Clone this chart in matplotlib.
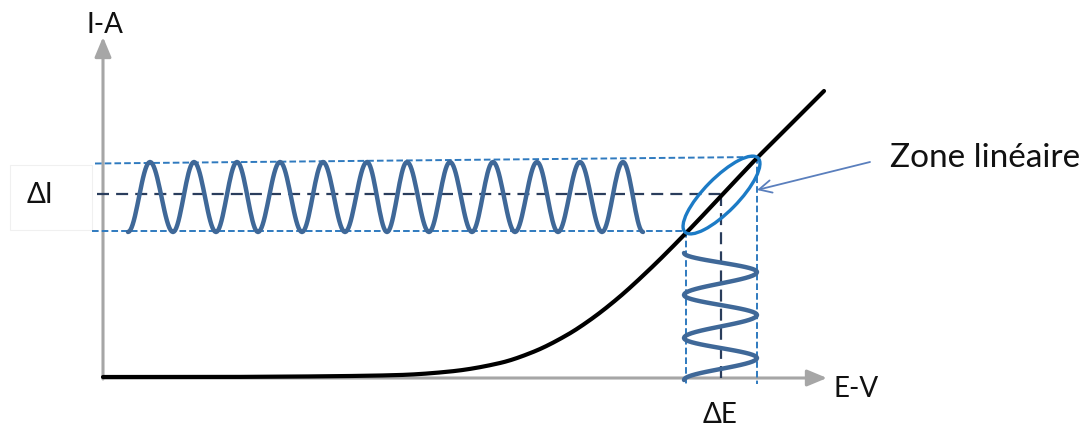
import numpy as np
import matplotlib
matplotlib.use("Agg")
import matplotlib.pyplot as plt
from matplotlib.patches import Ellipse, Rectangle, FancyArrowPatch

# ---------------- data (E, I in arbitrary units; origin at axes corner) ----------------
# I-E characteristic curve
curve_E = [0, 97, 197, 247, 297, 347, 397, 430, 464, 487, 514, 547, 584, 620, 654, 672, 721]
curve_I = [1, 1, 1.5, 2, 3, 6.5, 15, 26, 43, 58, 79, 109, 146, 184, 220, 238, 287]

# Horizontal sinusoid (current signal): E-positions of successive extremes, starting at a minimum
hwave_E = [25, 47, 70, 91, 113, 134, 155, 177, 199, 220, 242, 264, 284,
           304, 326, 347, 369, 390, 412, 434, 455, 477, 499, 520, 540]
hwave_Imax = 216
hwave_Imin = 146

# Vertical sinusoid (potential signal): I-positions of successive extremes, starting on the left
vwave_I = [125, 106, 83, 63, 40, 20, -2]
vwave_Eleft = 581
vwave_Eright = 654

# Reference levels
I_top_left, I_top_right = 214.5, 221   # slightly tilted upper dashed line
I_mid = 184
I_bot = 147
E_left, E_mid, E_right = 583, 618, 654

# Linear-zone ellipse
ell_center = (618.5, 183)
ell_width, ell_height, ell_angle = 104, 34, 45.4

labels = {"y": "I-A", "x": "E-V", "dI": "ΔI", "dE": "ΔE", "zone": "Zone linéaire"}

# ---------------- figure ----------------
W, H = 1088, 426
fig = plt.figure(figsize=(W / 100, H / 100), dpi=100)
ax = fig.add_axes([0, 0, 1, 1])
ax.set_xlim(-103, W - 103)
ax.set_ylim(-(H - 378), 378)
ax.axis("off")

FONT = "Lato"
GRAY = "#a6a6a6"
LBLUE = "#2f7abf"
DBLUE = "#2a3d5c"
WAVE = "#3f6898"
ELL = "#1c7bc6"
ARR = "#5a7fbd"

# faint box around ΔI
ax.add_patch(Rectangle((-93, 148), 82, 65, fill=False, ec="#f0f0f0", lw=0.8, zorder=0))

# axes arrows
ax.add_patch(FancyArrowPatch((0, -1), (0, 341), arrowstyle="-|>,head_length=1.2,head_width=0.5",
                             mutation_scale=10, color=GRAY, lw=2.2, shrinkA=0, shrinkB=0, zorder=2))
ax.add_patch(FancyArrowPatch((0, 0), (724, 0), arrowstyle="-|>,head_length=1.2,head_width=0.5",
                             mutation_scale=10, color=GRAY, lw=2.2, shrinkA=0, shrinkB=0, zorder=2))

# dashed guide lines
ls_l = (0, (3.4, 1.6))
ls_d = (0, (5.4, 3.2))
ax.plot([-8, E_right], [I_top_left, I_top_right], color=LBLUE, lw=1.4, ls=ls_l, zorder=3)
ax.plot([-11, E_left], [I_bot, I_bot], color=LBLUE, lw=1.4, ls=ls_l, zorder=3)
ax.plot([-6, E_mid], [I_mid, I_mid], color=DBLUE, lw=1.6, ls=ls_d, zorder=3)
ax.plot([E_left, E_left], [I_bot, -6], color=LBLUE, lw=1.4, ls=ls_l, zorder=3)
ax.plot([E_right, E_right], [I_top_right, -6], color=LBLUE, lw=1.4, ls=ls_l, zorder=3)
ax.plot([E_mid, E_mid], [I_mid, 0], color=DBLUE, lw=1.6, ls=ls_d, zorder=3)


# characteristic curve: shape-preserving (monotone cubic) drawing through the read points
def pchip(x, y, xs):
    x = np.asarray(x, float); y = np.asarray(y, float)
    h = np.diff(x); d = np.diff(y) / h
    m = np.zeros_like(y)
    for k in range(1, len(x) - 1):
        if d[k - 1] * d[k] > 0:
            w1 = 2 * h[k] + h[k - 1]; w2 = h[k] + 2 * h[k - 1]
            m[k] = (w1 + w2) / (w1 / d[k - 1] + w2 / d[k])
    m[0] = d[0]; m[-1] = d[-1]
    out = np.empty_like(xs)
    for j, xv in enumerate(xs):
        k = min(np.searchsorted(x, xv, side="right") - 1, len(x) - 2)
        k = max(k, 0)
        t = (xv - x[k]) / h[k]
        h00 = 2 * t**3 - 3 * t**2 + 1; h10 = t**3 - 2 * t**2 + t
        h01 = -2 * t**3 + 3 * t**2; h11 = t**3 - t**2
        out[j] = h00 * y[k] + h10 * h[k] * m[k] + h01 * y[k + 1] + h11 * h[k] * m[k + 1]
    return out

xs = np.linspace(curve_E[0], curve_E[-1], 600)
ax.plot(xs, pchip(curve_E, curve_I, xs), color="black", lw=3.0, solid_capstyle="round", zorder=5)


# waves: half-cosine segments between successive extremes
def half_cos(a, b, n=20):
    s = np.linspace(0, 1, n)
    return a + (b - a) * (1 - np.cos(np.pi * s)) / 2

hx, hy = [], []
for k in range(len(hwave_E) - 1):
    lv0 = hwave_Imin if k % 2 == 0 else hwave_Imax
    lv1 = hwave_Imax if k % 2 == 0 else hwave_Imin
    s = np.linspace(0, 1, 20)
    hx.append(hwave_E[k] + (hwave_E[k + 1] - hwave_E[k]) * s)
    hy.append(half_cos(lv0, lv1))
ax.plot(np.concatenate(hx), np.concatenate(hy), color=WAVE, lw=3.2, solid_capstyle="round", zorder=4)

vx, vy = [], []
for k in range(len(vwave_I) - 1):
    e0 = vwave_Eleft if k % 2 == 0 else vwave_Eright
    e1 = vwave_Eright if k % 2 == 0 else vwave_Eleft
    s = np.linspace(0, 1, 20)
    vy.append(vwave_I[k] + (vwave_I[k + 1] - vwave_I[k]) * s)
    vx.append(half_cos(e0, e1))
ax.plot(np.concatenate(vx), np.concatenate(vy), color=WAVE, lw=3.2, solid_capstyle="round", zorder=4)

# ellipse
ax.add_patch(Ellipse(ell_center, ell_width, ell_height, angle=ell_angle, fill=False,
                     ec=ELL, lw=2.4, zorder=6))

# annotation arrow
ax.add_patch(FancyArrowPatch((767, 216), (654, 188), arrowstyle="->,head_length=0.9,head_width=0.45",
                             mutation_scale=10, color=ARR, lw=1.3, shrinkA=0, shrinkB=0, zorder=6))

# texts
ax.text(2, 345, labels["y"], fontsize=20, family=FONT, ha="center", va="baseline", color="#111111")
ax.text(731, -19, labels["x"], fontsize=20, family=FONT, ha="left", va="baseline", color="#111111")
ax.text(-63, 175, labels["dI"], fontsize=20, family=FONT, ha="center", va="baseline", color="#111111")
ax.text(617, -45, labels["dE"], fontsize=20, family=FONT, ha="center", va="baseline", color="#111111")
ax.text(787, 211, labels["zone"], fontsize=24, family=FONT, ha="left", va="baseline", color="#111111")

fig.savefig("out.png", dpi=100)
